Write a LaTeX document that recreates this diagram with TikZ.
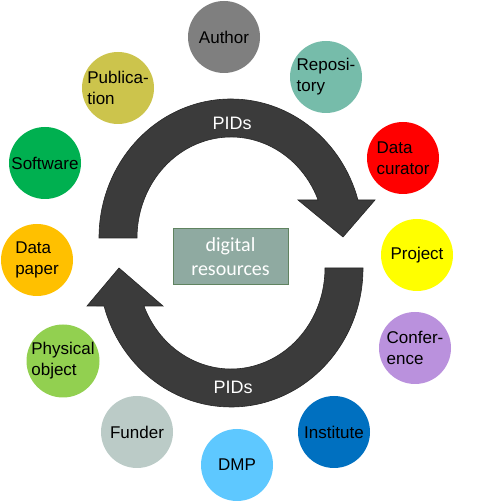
\documentclass[tikz,border=0pt]{standalone}
\usepackage{fontspec}
\setmainfont{Liberation Sans}
\newfontfamily\calib{Carlito}
\begin{document}
\begin{tikzpicture}[x=1pt,y=1pt,
  ball/.style={circle,minimum size=72pt,inner sep=0pt,align=left,
    font=\fontsize{17}{21}\selectfont,text=black},
  band/.style={fill=black!77,draw=black!85,line width=0.6pt},
  pids/.style={text=white,font=\fontsize{18}{21}\selectfont}]
\useasboundingbox (0,0) rectangle (500,502);
% circular arrows
\draw[band] (99,264) arc[start angle=180,end angle=15.87,x radius=132,y radius=139]
  -- (375,302) -- (343,265) -- (298,302) -- (318.1,302)
  arc[start angle=22.1,end angle=180,x radius=94,y radius=101] -- cycle;
\draw[band] (363,234) arc[start angle=0,end angle=-164.13,x radius=132,y radius=139]
  -- (87,196) -- (119,234) -- (163,196) -- (143.9,196)
  arc[start angle=-157.9,end angle=0,x radius=94,y radius=101] -- cycle;
\node[pids] (p1) at (232,379) {PIDs};
\node[pids] (p2) at (233,115) {PIDs};
% centre box
\node[draw=black!45!green!25!gray,fill={rgb,255:red,143;green,170;blue,161},line width=1pt,
  minimum width=115pt,minimum height=56pt,inner sep=0pt,align=center,text=white,
  font=\calib\fontsize{20}{24}\selectfont] (dr) at (230.5,245) {digital\\resources};
% circles
\node[ball,fill={rgb,255:red,127;green,127;blue,127}] (author) at (224,465) {Author};
\node[ball,fill={rgb,255:red,118;green,188;blue,170}] (repo) at (326,425) {Reposi-\\tory};
\node[ball,fill={rgb,255:red,204;green,196;blue,76}] (pub) at (118,414) {Publica-\\tion};
\node[ball,fill={rgb,255:red,0;green,176;blue,80}] (soft) at (45,339) {Software};
\node[ball,fill={rgb,255:red,255;green,0;blue,0}] (cur) at (403,344) {Data\\curator};
\node[ball,fill={rgb,255:red,255;green,255;blue,0}] (proj) at (417,247) {Project};
\node[ball,fill={rgb,255:red,255;green,192;blue,0}] (dpap) at (37,242) {Data\\paper};
\node[ball,fill={rgb,255:red,186;green,145;blue,221}] (conf) at (415,154) {Confer-\\ence};
\node[ball,fill={rgb,255:red,146;green,208;blue,80}] (phys) at (63,141) {Physical\\object};
\node[ball,fill={rgb,255:red,187;green,203;blue,199}] (fund) at (137,70) {Funder};
\node[ball,fill={rgb,255:red,94;green,200;blue,255}] (dmp) at (237,37) {DMP};
\node[ball,fill={rgb,255:red,0;green,112;blue,192}] (inst) at (334,70) {Institute};
\end{tikzpicture}
\end{document}
